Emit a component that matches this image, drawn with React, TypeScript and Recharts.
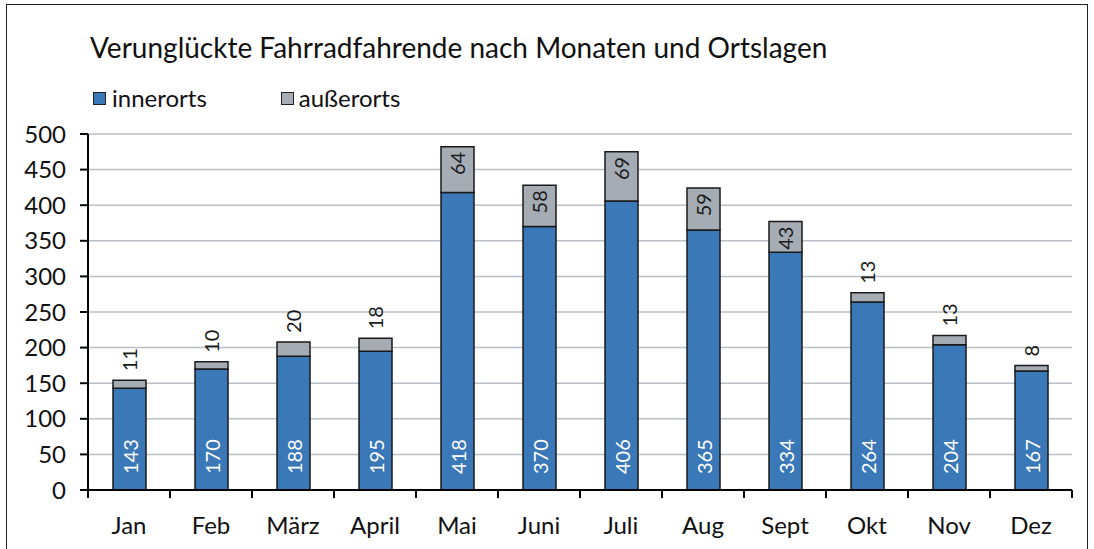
import { BarChart, Bar, XAxis, YAxis, CartesianGrid, LabelList } from "recharts";

const months = ["Jan", "Feb", "März", "April", "Mai", "Juni", "Juli", "Aug", "Sept", "Okt", "Nov", "Dez"];
const innerorts = [143, 170, 188, 195, 418, 370, 406, 365, 334, 264, 204, 167];
const ausserorts = [11, 10, 20, 18, 64, 58, 69, 59, 43, 13, 13, 8];
const yTicks = [0, 50, 100, 150, 200, 250, 300, 350, 400, 450, 500];

const data = months.map((m, i) => ({ month: m, inner: innerorts[i], outer: ausserorts[i] }));

const FONT = "Lato, 'Open Sans', sans-serif";
const BLUE = "#3b78b8";
const GRAY = "#a6acb4";

const MonthTick = (props: any) => {
  const { x, y, payload, index } = props;
  const half = 41;
  return (
    <g>
      <line x1={x - half} y1={y - 8} x2={x - half} y2={y} stroke="#000" strokeWidth={2} />
      {index === months.length - 1 && (
        <line x1={x + half} y1={y - 8} x2={x + half} y2={y} stroke="#000" strokeWidth={2} />
      )}
      <text x={x} y={y + 36} textAnchor="middle" fontSize={24} fill="#111" fontFamily={FONT}>
        {payload.value}
      </text>
    </g>
  );
};

const InnerLabel = (props: any) => {
  const { x, y, width, height, value } = props;
  const cx = x + width / 2;
  const cy = y + height - 16;
  return (
    <text
      x={cx}
      y={cy}
      transform={`rotate(-90 ${cx} ${cy})`}
      textAnchor="start"
      dominantBaseline="central"
      fontSize={20}
      fill="#fff"
      fontFamily={FONT}
    >
      {value}
    </text>
  );
};

const OuterLabel = (props: any) => {
  const { x, y, width, height, value } = props;
  const cx = x + width / 2;
  const inside = height > 25;
  const cy = inside ? y + 5 : y - 9;
  return (
    <text
      x={cx}
      y={cy}
      transform={`rotate(-90 ${cx} ${cy})`}
      textAnchor={inside ? "end" : "start"}
      dominantBaseline="central"
      fontSize={20}
      fill="#1a1a1a"
      fontFamily={FONT}
    >
      {value}
    </text>
  );
};

export default function App() {
  return (
    <div style={{ position: "absolute", left: 0, top: 0, width: 1094, height: 549, background: "#fff", fontFamily: FONT }}>
      <div
        style={{
          position: "absolute",
          left: 6,
          top: 4,
          width: 1082,
          height: 560,
          border: "1.5px solid #222",
          boxSizing: "border-box",
        }}
      />
      <div style={{ position: "absolute", left: 90, top: 33, fontSize: 28, lineHeight: "28px", color: "#111", whiteSpace: "nowrap" }}>
        Verunglückte Fahrradfahrende nach Monaten und Ortslagen
      </div>
      <div style={{ position: "absolute", left: 93, top: 84, fontSize: 24, lineHeight: "28px", color: "#111", display: "flex", alignItems: "center" }}>
        <span style={{ display: "inline-block", width: 11, height: 11, background: BLUE, border: "1px solid #222", marginRight: 6 }} />
        <span>innerorts</span>
        <span style={{ display: "inline-block", width: 11, height: 11, background: GRAY, border: "1px solid #222", marginLeft: 74, marginRight: 5 }} />
        <span>außerorts</span>
      </div>
      <div style={{ position: "absolute", left: 0, top: 0 }}>
        <BarChart width={1094} height={549} data={data} margin={{ top: 134, right: 22, bottom: 19, left: 28 }} barSize={33}>
          <CartesianGrid vertical={false} stroke="#b8c0c8" strokeWidth={1.5} />
          <XAxis
            dataKey="month"
            axisLine={{ stroke: "#000", strokeWidth: 2 }}
            tickLine={false}
            tick={<MonthTick />}
            height={40}
            interval={0}
          />
          <YAxis
            domain={[0, 500]}
            ticks={yTicks}
            width={60}
            axisLine={{ stroke: "#000", strokeWidth: 2 }}
            tickLine={{ stroke: "#000", strokeWidth: 2 }}
            tickSize={8}
            tickMargin={14}
            tick={{ fontSize: 24, fill: "#111", fontFamily: FONT }}
            interval={0}
          />
          <Bar dataKey="inner" stackId="a" fill={BLUE} stroke="#1a1a1a" strokeWidth={1.5} isAnimationActive={false}>
            <LabelList dataKey="inner" content={<InnerLabel />} />
          </Bar>
          <Bar dataKey="outer" stackId="a" fill={GRAY} stroke="#1a1a1a" strokeWidth={1.5} isAnimationActive={false}>
            <LabelList dataKey="outer" content={<OuterLabel />} />
          </Bar>
        </BarChart>
      </div>
    </div>
  );
}
